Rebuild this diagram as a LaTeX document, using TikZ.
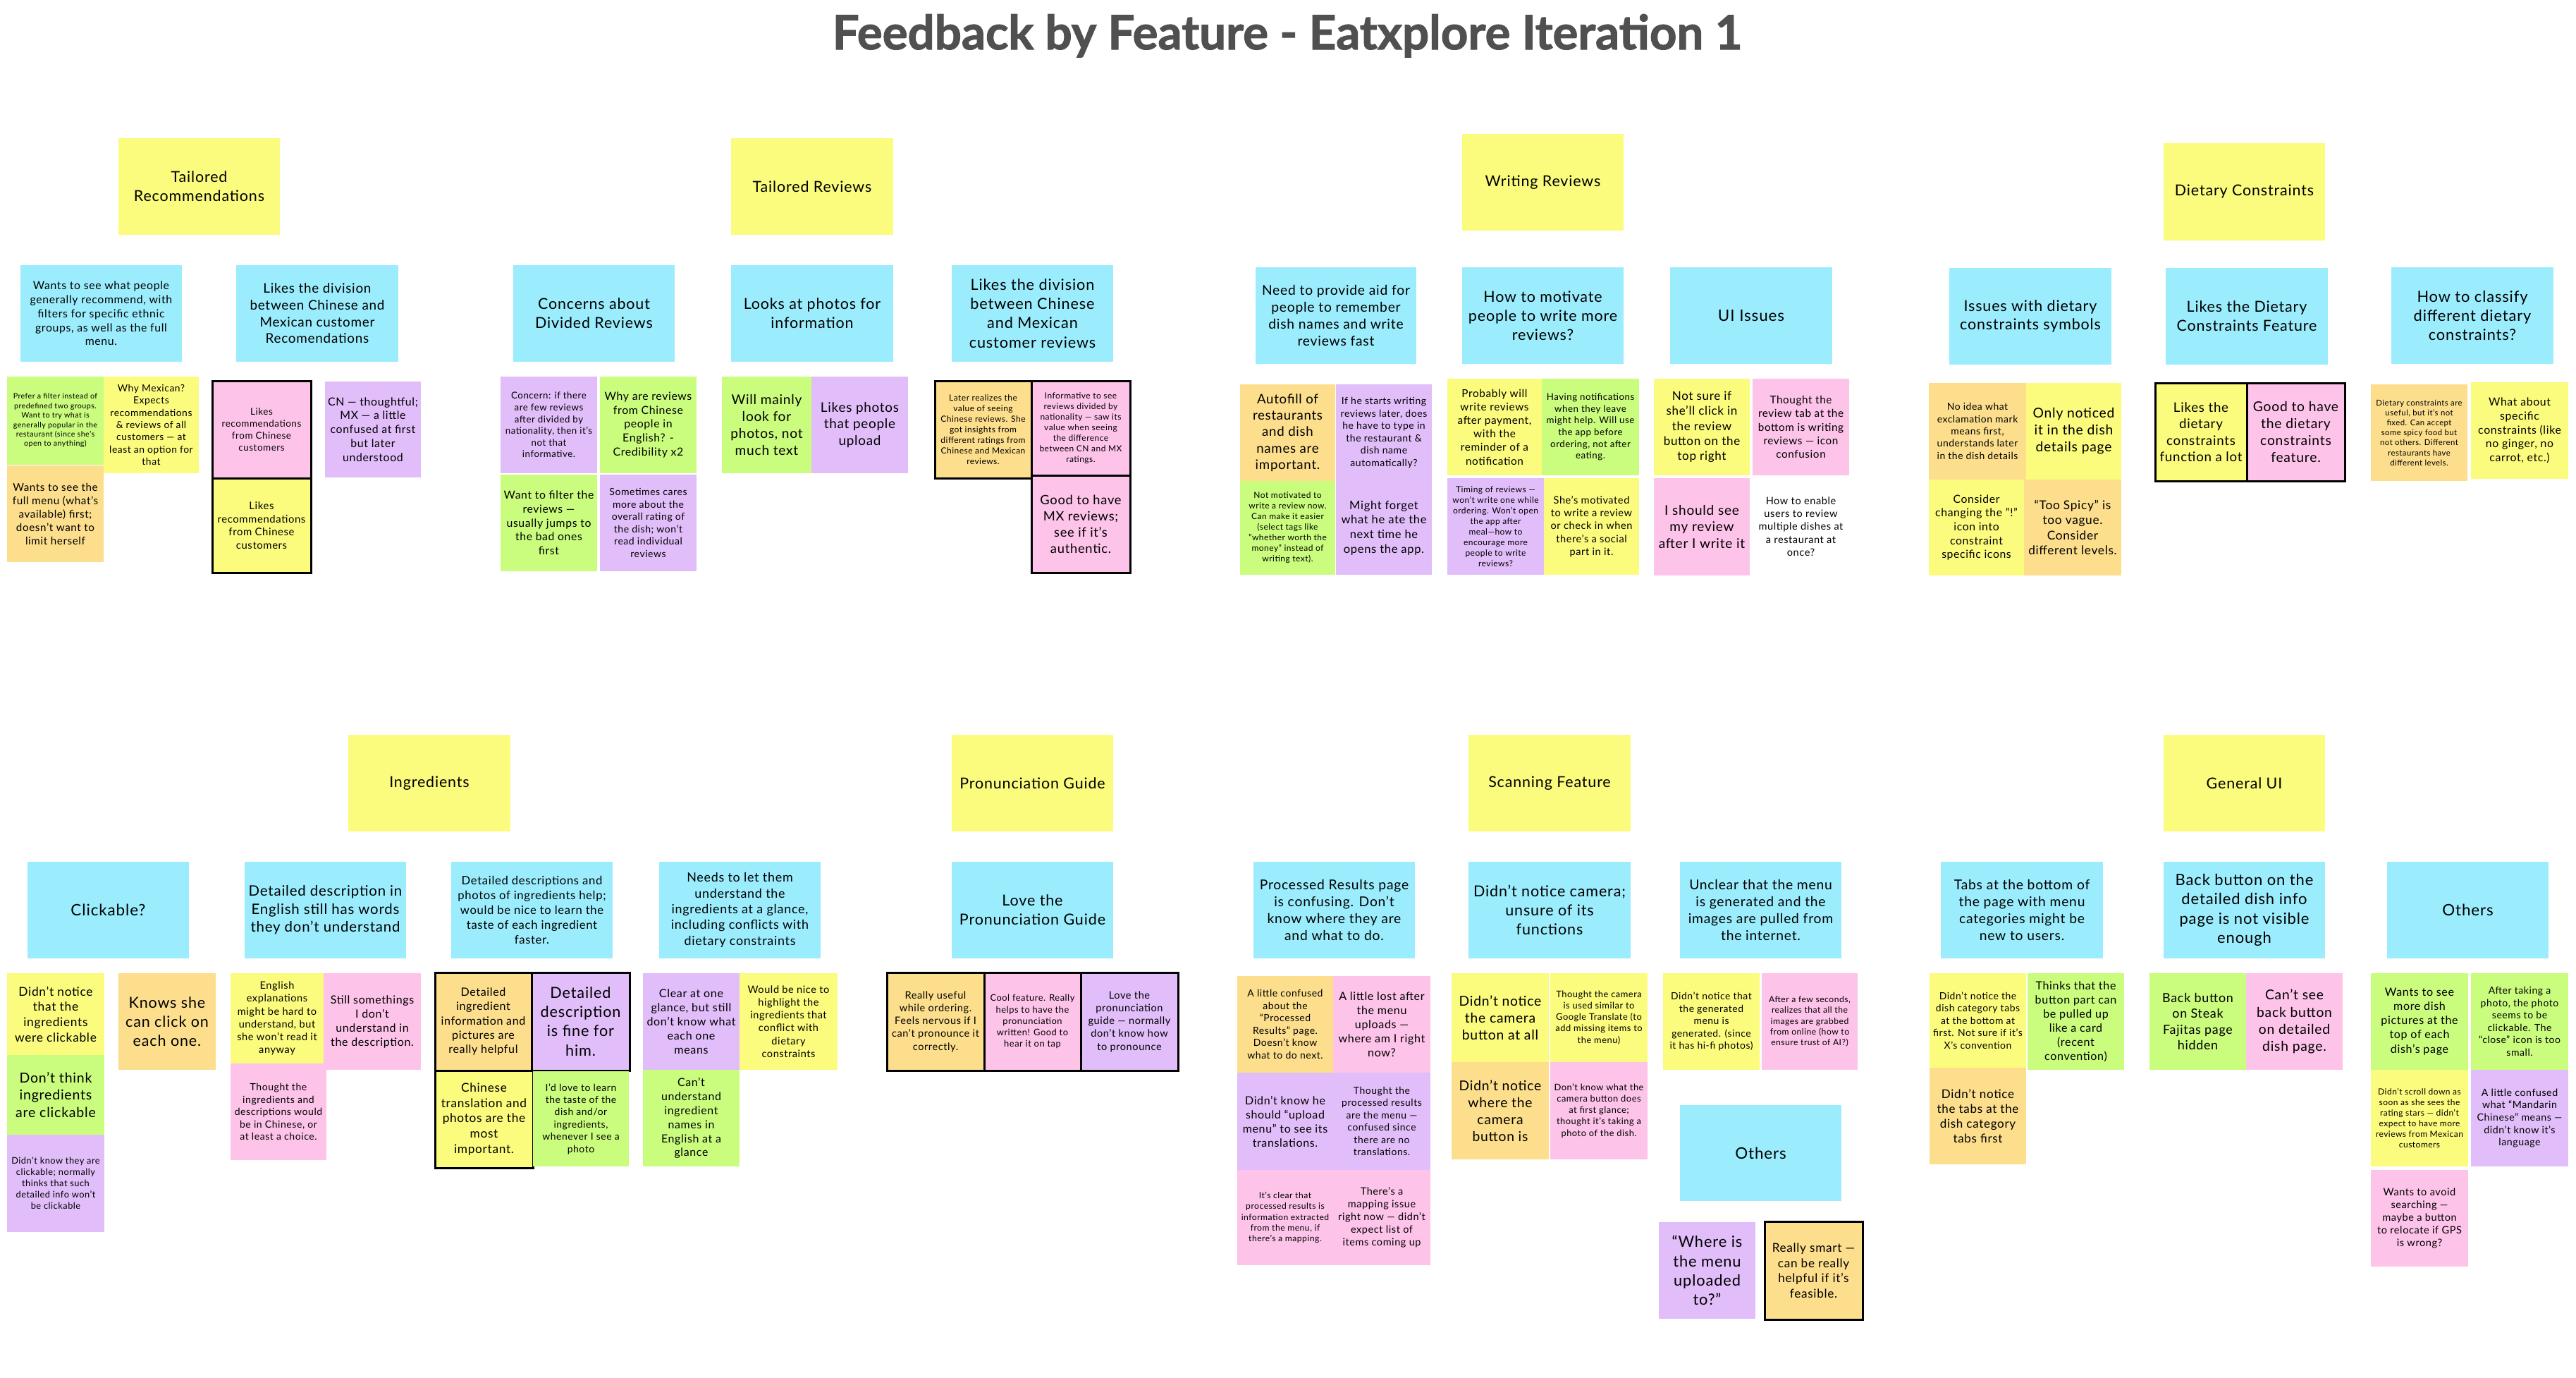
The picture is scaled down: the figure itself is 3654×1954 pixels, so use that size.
\documentclass[tikz,border=0pt]{standalone}
\usepackage{fontspec}
\setmainfont{Lato}[LetterSpace=4]
\newfontfamily\titlefont{Lato}[FakeBold=1.6]
\usepackage{graphicx}
\definecolor{cYel}{RGB}{251,251,126}
\definecolor{cBlu}{RGB}{155,237,253}
\definecolor{cGrn}{RGB}{202,252,126}
\definecolor{cOrg}{RGB}{252,222,140}
\definecolor{cPnk}{RGB}{253,195,233}
\definecolor{cPur}{RGB}{225,189,250}
\definecolor{cTitle}{RGB}{80,80,80}
\newcommand\ls[1]{\fontsize{\dimexpr #1pt*80/100\relax}{#1pt}\selectfont}
\tikzset{
  note/.style={rectangle, inner sep=0pt, outer sep=0pt, anchor=north west, align=center, text=black},
  nY/.style={note, fill=cYel},
  nB/.style={note, fill=cBlu},
  nG/.style={note, fill=cGrn},
  nO/.style={note, fill=cOrg},
  nP/.style={note, fill=cPnk},
  nU/.style={note, fill=cPur},
  nW/.style={note},
  brd/.style={draw=black, line width=3pt}
}
% style, x1, y1, x2, y2, name, baselineskip, text
\newcommand\nt[8]{\node[#1, minimum width={#4pt-#2pt}, minimum height={#5pt-#3pt}, font={\ls{#7}}] (#6) at (#2,#3) {#8};}
\begin{document}
\begin{tikzpicture}[x=1pt,y=-1pt]
\fill[white] (0,0) rectangle (3654,1954);
\useasboundingbox (0,0) rectangle (3654,1954);
\node[anchor=base, text=cTitle, inner sep=0pt] (title) at (1826,70) {\resizebox{1290pt}{!}{\titlefont\bfseries Feedback by Feature - Eatxplore Iteration 1}};

% ---------- headers ----------
\nt{nY}{168}{196}{397}{333}{h1}{26.8}{Tailored\\Recommendations}
\nt{nY}{1037}{196}{1267}{333}{h2}{26.8}{Tailored Reviews}
\nt{nY}{2074}{190}{2303}{327}{h3}{26.8}{Writing Reviews}
\nt{nY}{3069}{203}{3298}{341}{h4}{26.8}{Dietary Constraints}
\nt{nY}{494}{1042}{724}{1179}{h5}{26.8}{Ingredients}
\nt{nY}{1350}{1042}{1579}{1179}{h6}{26.8}{Pronunciation Guide}
\nt{nY}{2083}{1042}{2313}{1179}{h7}{26.8}{Scanning Feature}
\nt{nY}{3069}{1042}{3298}{1179}{h8}{26.8}{General UI}

% ---------- top blue ----------
\nt{nB}{29}{376}{258}{513}{b1}{19.8}{Wants to see what people\\generally recommend, with\\filters for specific ethnic\\groups, as well as the full\\menu.}
\nt{nB}{335}{376}{565}{513}{b2}{23.6}{Likes the division\\between Chinese and\\Mexican customer\\Recomendations}
\nt{nB}{728}{376}{957}{513}{b3}{26.8}{Concerns about\\Divided Reviews}
\nt{nB}{1037}{376}{1267}{513}{b4}{26.8}{Looks at photos for\\information}
\nt{nB}{1350}{376}{1579}{513}{b5}{27.1}{Likes the division\\between Chinese\\and Mexican\\customer reviews}
\nt{nB}{1781}{379}{2009}{516}{b6}{24.1}{Need to provide aid for\\people to remember\\dish names and write\\reviews fast}
\nt{nB}{2074}{379}{2303}{516}{b7}{26.8}{How to motivate\\people to write more\\reviews?}
\nt{nB}{2369}{379}{2599}{516}{b8}{28}{UI Issues}
\nt{nB}{2765}{380}{2995}{517}{b9}{26.8}{Issues with dietary\\constraints symbols}
\nt{nB}{3072}{380}{3302}{517}{b10}{26.8}{Likes the Dietary\\Constraints Feature}
\nt{nB}{3392}{379}{3622}{516}{b11}{27.3}{How to classify\\different dietary\\constraints?}

% ---------- top notes ----------
\nt{nG}{10}{534}{147}{659}{g1}{13.4}{Prefer a filter instead of\\predefined two groups.\\Want to try what is\\generally popular in the\\restaurant (since she's\\open to anything)}
\nt{nY}{147}{534}{282}{671}{y1}{17.3}{Why Mexican?\\Expects\\recommendations\\\& reviews of all\\customers — at\\least an option for\\that}
\nt{nO}{10}{660}{147}{797}{o1}{19}{Wants to see the\\full menu (what's\\available) first;\\doesn't want to\\limit herself}
\nt{nP,brd}{301}{540}{441}{678}{p1}{16.8}{Likes\\recommendations\\from Chinese\\customers}
\nt{nY,brd}{301}{678}{441}{812}{y2}{18.6}{Likes\\recommendations\\from Chinese\\customers}
\nt{nU}{461}{541}{597}{677}{u1}{19.8}{CN — thoughtful;\\MX — a little\\confused at first\\but later\\understood}

\nt{nU}{710}{534}{847}{671}{u2}{16.6}{Concern: if there\\are few reviews\\after divided by\\nationality, then it's\\not that\\informative.}
\nt{nG}{851}{534}{988}{671}{g2}{19.8}{Why are reviews\\from Chinese\\people in\\English? -\\Credibility x2}
\nt{nG}{710}{673}{847}{810}{g3}{19.7}{Want to filter the\\reviews —\\usually jumps to\\the bad ones\\first}
\nt{nU}{851}{673}{988}{810}{u3}{17.5}{Sometimes cares\\more about the\\overall rating of\\the dish; won't\\read individual\\reviews}
\nt{nG}{1024}{534}{1151}{671}{g4}{23.9}{Will mainly\\look for\\photos, not\\much text}
\nt{nU}{1151}{534}{1288}{671}{u4}{23.6}{Likes photos\\that people\\upload}

\nt{nO,brd}{1326}{540}{1463}{678}{o2}{15}{Later realizes the\\value of seeing\\Chinese reviews. She\\got insights from\\different ratings from\\Chinese and Mexican\\reviews.}
\nt{nP,brd}{1463}{540}{1603}{674}{p2}{15}{Informative to see\\reviews divided by\\nationality — saw its\\value when seeing\\the difference\\between CN and MX\\ratings.}
\nt{nP,brd}{1463}{674}{1603}{812}{p3}{22.9}{Good to have\\MX reviews;\\see if it's\\authentic.}

\nt{nO}{1759}{545}{1894}{682}{o3}{23.3}{Autofill of\\restaurants\\and dish\\names are\\important.}
\nt{nU}{1895}{545}{2031}{682}{u5}{17.5}{If he starts writing\\reviews later, does\\he have to type in\\the restaurant \&\\dish name\\automatically?}
\nt{nG}{1759}{682}{1894}{815}{g5}{15}{Not motivated to\\write a review now.\\Can make it easier\\(select tags like\\"whether worth the\\money" instead of\\writing text).}
\nt{nU}{1895}{682}{2031}{815}{u6}{20.7}{Might forget\\what he ate the\\next time he\\opens the app.}
\nt{nY}{2053}{537}{2187}{674}{y3}{19.2}{Probably will\\write reviews\\after payment,\\with the\\reminder of a\\notification}
\nt{nG}{2187}{537}{2325}{674}{g6}{16.6}{Having notifications\\when they leave\\might help. Will use\\the app before\\ordering, not after\\eating.}
\nt{nU}{2053}{678}{2190}{815}{u7}{15}{Timing of reviews —\\won't write one while\\ordering. Won't open\\the app after\\meal—how to\\encourage more\\people to write\\reviews?}
\nt{nY}{2190}{678}{2325}{815}{y4}{18.2}{She's motivated\\to write a review\\or check in when\\there's a social\\part in it.}
\nt{nY}{2346}{537}{2482}{674}{y5}{21.3}{Not sure if\\she'll click in\\the review\\button on the\\top right}
\nt{nP}{2486}{537}{2623}{674}{p4}{19.1}{Thought the\\review tab at the\\bottom is writing\\reviews — icon\\confusion}
\nt{nP}{2346}{678}{2482}{816}{p5}{23.8}{I should see\\my review\\after I write it}
\nt{nW}{2486}{678}{2623}{815}{w1}{18.2}{How to enable\\users to review\\multiple dishes at\\a restaurant at\\once?}

\nt{nO}{2736}{543}{2874}{680}{o4}{17.4}{No idea what\\exclamation mark\\means first,\\understands later\\in the dish details}
\nt{nY}{2874}{543}{3009}{680}{y6}{24.1}{Only noticed\\it in the dish\\details page}
\nt{nY}{2736}{680}{2871}{816}{y7}{19.7}{Consider\\changing the "!"\\icon into\\constraint\\specific icons}
\nt{nO}{2871}{680}{3009}{816}{o5}{21.6}{“Too Spicy” is\\too vague.\\Consider\\different levels.}

\nt{nY,brd}{3057}{543}{3187}{682}{y8}{23.4}{Likes the\\dietary\\constraints\\function a lot}
\nt{nP,brd}{3187}{543}{3326}{682}{p6}{24.1}{Good to have\\the dietary\\constraints\\feature.}
\nt{nO}{3363}{545}{3500}{682}{o6}{14.2}{Dietary constraints are\\useful, but it's not\\fixed. Can accept\\some spicy food but\\not others. Different\\restaurants have\\different levels.}
\nt{nY}{3505}{542}{3643}{679}{y9}{19.8}{What about\\specific\\constraints (like\\no ginger, no\\carrot, etc.)}

% ---------- bottom blue ----------
\nt{nB}{39}{1222}{268}{1359}{b12}{28}{Clickable?}
\nt{nB}{347}{1222}{576}{1359}{b13}{25.5}{Detailed description in\\English still has words\\they don't understand}
\nt{nB}{640}{1222}{869}{1359}{b14}{20.8}{Detailed descriptions and\\photos of ingredients help;\\would be nice to learn the\\taste of each ingredient\\faster.}
\nt{nB}{935}{1222}{1164}{1359}{b15}{22.4}{Needs to let them\\understand the\\ingredients at a glance,\\including conflicts with\\dietary constraints}
\nt{nB}{1350}{1222}{1579}{1359}{b16}{26.9}{Love the\\Pronunciation Guide}
\nt{nB}{1778}{1222}{2007}{1359}{b17}{24.1}{Processed Results page\\is confusing. Don't\\know where they are\\and what to do.}
\nt{nB}{2083}{1222}{2313}{1359}{b18}{26.9}{Didn't notice camera;\\unsure of its\\functions}
\nt{nB}{2383}{1222}{2612}{1359}{b19}{24.1}{Unclear that the menu\\is generated and the\\images are pulled from\\the internet.}
\nt{nB}{2753}{1222}{2983}{1359}{b20}{24.1}{Tabs at the bottom of\\the page with menu\\categories might be\\new to users.}
\nt{nB}{3069}{1222}{3298}{1359}{b21}{27.5}{Back button on the\\detailed dish info\\page is not visible\\enough}
\nt{nB}{3386}{1222}{3615}{1359}{b22}{28}{Others}
\nt{nB}{2383}{1567}{2612}{1703}{b23}{28}{Others}

% ---------- bottom notes ----------
\nt{nY}{10}{1380}{148}{1496}{y10}{21.7}{Didn't notice\\that the\\ingredients\\were clickable}
\nt{nG}{10}{1496}{148}{1609}{g7}{24.4}{Don't think\\ingredients\\are clickable}
\nt{nU}{10}{1609}{148}{1747}{u8}{16}{Didn't know they are\\clickable; normally\\thinks that such\\detailed info won't\\be clickable}
\nt{nO}{168}{1380}{306}{1517}{o7}{26.9}{Knows she\\can click on\\each one.}
\nt{nY}{327}{1380}{459}{1508}{y11}{18.2}{English\\explanations\\might be hard to\\understand, but\\she won't read it\\anyway}
\nt{nP}{459}{1380}{597}{1517}{p7}{20}{Still somethings\\I don't\\understand in\\the description.}
\nt{nP}{327}{1508}{463}{1645}{p8}{17.5}{Thought the\\ingredients and\\descriptions would\\be in Chinese, or\\at least a choice.}

\nt{nO,brd}{617}{1379}{754}{1518}{o8}{20.1}{Detailed\\ingredient\\information and\\pictures are\\really helpful}
\nt{nU,brd}{754}{1379}{893}{1518}{u9}{27.1}{Detailed\\description\\is fine for\\him.}
\nt{nY,brd}{617}{1518}{756}{1656}{y12}{21.6}{Chinese\\translation and\\photos are the\\most\\important.}
\nt{nG}{756}{1519}{892}{1654}{g8}{17.4}{I'd love to learn\\the taste of the\\dish and/or\\ingredients,\\whenever I see a\\photo}
\nt{nU}{912}{1380}{1049}{1517}{u10}{20.1}{Clear at one\\glance, but still\\don't know what\\each one\\means}
\nt{nY}{1049}{1380}{1188}{1517}{y13}{18.2}{Would be nice to\\highlight the\\ingredients that\\conflict with\\dietary\\constraints}
\nt{nG}{912}{1517}{1049}{1654}{g9}{19.9}{Can't\\understand\\ingredient\\names in\\English at a\\glance}

\nt{nO,brd}{1258}{1379}{1396}{1518}{o9}{18.2}{Really useful\\while ordering.\\Feels nervous if I\\can't pronounce it\\correctly.}
\nt{nP,brd}{1396}{1379}{1533}{1518}{p9}{16.1}{Cool feature. Really\\helps to have the\\pronunciation\\written! Good to\\hear it on tap}
\nt{nU,brd}{1533}{1379}{1671}{1518}{u11}{18.2}{Love the\\pronunciation\\guide — normally\\don't know how\\to pronounce}

\nt{nO}{1755}{1384}{1891}{1521}{o10}{17.5}{A little confused\\about the\\“Processed\\Results” page.\\Doesn't know\\what to do next.}
\nt{nP}{1891}{1384}{2029}{1521}{p10}{20.1}{A little lost after\\the menu\\uploads —\\where am I right\\now?}
\nt{nU}{1755}{1521}{1891}{1659}{u12}{20}{Didn't know he\\should “upload\\menu” to see its\\translations.}
\nt{nU}{1891}{1521}{2029}{1659}{u13}{17.4}{Thought the\\processed results\\are the menu —\\confused since\\there are no\\translations.}
\nt{nP}{1755}{1659}{1891}{1794}{p11}{15.2}{It's clear that\\processed results is\\information extracted\\from the menu, if\\there's a mapping.}
\nt{nP}{1891}{1659}{2029}{1794}{p12}{18.1}{There's a\\mapping issue\\right now — didn't\\expect list of\\items coming up}
\nt{nY}{2059}{1380}{2197}{1506}{y14}{24.1}{Didn't notice\\the camera\\button at all}
\nt{nY}{2199}{1380}{2337}{1506}{y15}{16.1}{Thought the camera\\is used similar to\\Google Translate (to\\add missing items to\\the menu)}
\nt{nO}{2059}{1506}{2197}{1644}{o11}{24.1}{Didn't notice\\where the\\camera\\button is}
\nt{nP}{2199}{1506}{2337}{1644}{p13}{16.1}{Don't know what the\\camera button does\\at first glance;\\thought it's taking a\\photo of the dish.}
\nt{nY}{2359}{1380}{2496}{1517}{y16}{17.4}{Didn't notice that\\the generated\\menu is\\generated. (since\\it has hi-fi photos)}
\nt{nP}{2499}{1380}{2635}{1517}{p14}{15.2}{After a few seconds,\\realizes that all the\\images are grabbed\\from online (how to\\ensure trust of AI?)}
\nt{nU}{2353}{1733}{2490}{1870}{u14}{27.3}{“Where is\\the menu\\uploaded\\to?”}
\nt{nO,brd}{2503}{1732}{2642}{1871}{o12}{21.5}{Really smart —\\can be really\\helpful if it's\\feasible.}

\nt{nY}{2737}{1380}{2874}{1514}{y17}{17.4}{Didn't notice the\\dish category tabs\\at the bottom at\\first. Not sure if it's\\X's convention}
\nt{nG}{2876}{1380}{3013}{1517}{g10}{20.1}{Thinks that the\\button part can\\be pulled up\\like a card\\(recent\\convention)}
\nt{nO}{2737}{1514}{2874}{1651}{o13}{21.3}{Didn't notice\\the tabs at the\\dish category\\tabs first}

\nt{nG}{3049}{1380}{3186}{1517}{g11}{22.4}{Back button\\on Steak\\Fajitas page\\hidden}
\nt{nP}{3186}{1380}{3323}{1517}{p15}{24.1}{Can't see\\back button\\on detailed\\dish page.}
\nt{nG}{3363}{1380}{3501}{1517}{g12}{20.1}{Wants to see\\more dish\\pictures at the\\top of each\\dish's page}
\nt{nG}{3505}{1380}{3643}{1517}{g13}{17.5}{After taking a\\photo, the photo\\seems to be\\clickable. The\\“close” icon is too\\small.}
\nt{nY}{3363}{1517}{3501}{1654}{y18}{15}{Didn't scroll down as\\soon as she sees the\\rating stars — didn't\\expect to have more\\reviews from Mexican\\customers}
\nt{nU}{3505}{1517}{3643}{1654}{u15}{17.7}{A little confused\\what “Mandarin\\Chinese” means —\\didn't know it's\\language}
\nt{nP}{3363}{1659}{3501}{1796}{p16}{18.2}{Wants to avoid\\searching —\\maybe a button\\to relocate if GPS\\is wrong?}
\end{tikzpicture}
\end{document}
